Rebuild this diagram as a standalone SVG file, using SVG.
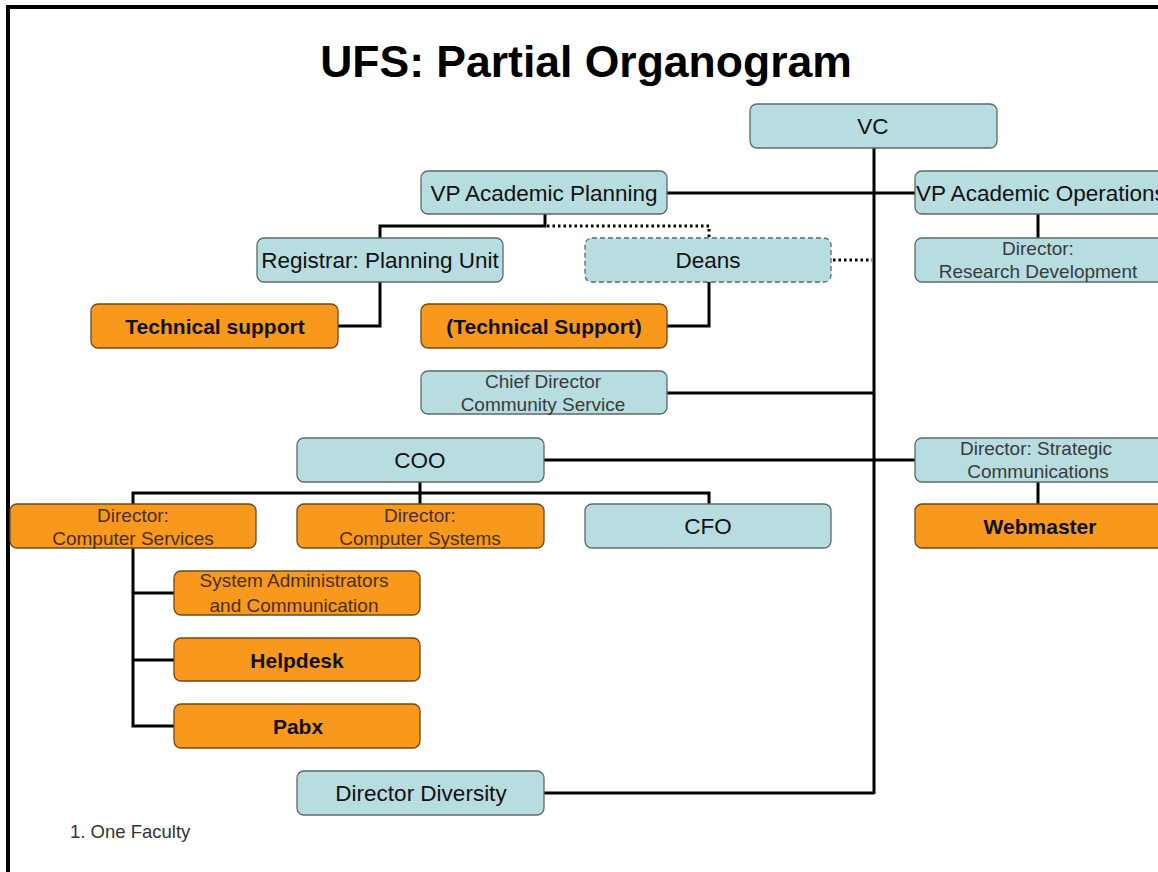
<svg xmlns="http://www.w3.org/2000/svg" width="1158" height="872" viewBox="0 0 1158 872">
  <style>
    .blue { fill: #b7dde1; stroke: #5b6a6c; stroke-width: 1.3; }
    .orange { fill: #f8981d; stroke: #6b4a1c; stroke-width: 1.3; }
    .dashed { stroke-dasharray: 5 3; }
    .t { font-family: "Liberation Sans", Arial, sans-serif; text-anchor: middle; }
    .big { font-size: 22.5px; fill: #111; }
    .bigb { font-size: 21px; font-weight: bold; fill: #111; }
    .small { font-size: 19px; fill: #3a3a3a; }
    .smallo { font-size: 19px; fill: #4a3010; }
    .line { fill: none; stroke: #000; stroke-width: 3; }
    .dot { fill: none; stroke: #000; stroke-width: 3; stroke-dasharray: 2.5 3; }
  </style>
  <rect x="0" y="0" width="1158" height="872" fill="#fff"/>
  <!-- frame -->
  <path d="M8 872 V7 H1158" fill="none" stroke="#000" stroke-width="4"/>

  <text class="t" x="586" y="77" font-size="44.5" font-weight="bold" fill="#000">UFS: Partial Organogram</text>

  <g id="connectors">
    <line class="line" x1="874" y1="148" x2="874" y2="794"/>
    <line class="line" x1="667" y1="193" x2="915" y2="193"/>
    <line class="line" x1="1038" y1="214" x2="1038" y2="238"/>
    <path class="line" d="M545 214 V226 H380 V238"/>
    <path class="dot" d="M547 226 H709 V238"/>
    <line class="dot" x1="833" y1="260" x2="872" y2="260"/>
    <path class="line" d="M380 282 V326 H338"/>
    <path class="line" d="M709 282 V326 H667"/>
    <line class="line" x1="667" y1="393" x2="874" y2="393"/>
    <line class="line" x1="544" y1="460" x2="915" y2="460"/>
    <path class="line" d="M133 504 V493 H709 V504"/>
    <line class="line" x1="420" y1="482" x2="420" y2="504"/>
    <line class="line" x1="1038" y1="482" x2="1038" y2="504"/>
    <path class="line" d="M133 548 V726 H174"/>
    <line class="line" x1="133" y1="593" x2="174" y2="593"/>
    <line class="line" x1="133" y1="660" x2="174" y2="660"/>
    <line class="line" x1="544" y1="793" x2="874" y2="793"/>
  </g>

  <g id="vc">
    <rect class="blue" x="750" y="104" width="247" height="44" rx="7"/>
    <text class="t big" x="873" y="134">VC</text>
  </g>
  <g id="vp-academic-planning">
    <rect class="blue" x="421" y="171" width="246" height="43" rx="7"/>
    <text class="t big" x="544" y="201">VP Academic Planning</text>
  </g>
  <g id="vp-academic-operations">
    <rect class="blue" x="915" y="171" width="250" height="43" rx="7"/>
    <text x="916" y="201" font-family="Liberation Sans, Arial, sans-serif" font-size="22.5" fill="#111">VP Academic Operations</text>
  </g>
  <g id="registrar">
    <rect class="blue" x="257" y="238" width="246" height="44" rx="7"/>
    <text class="t big" x="380" y="268">Registrar: Planning Unit</text>
  </g>
  <g id="deans">
    <rect class="blue dashed" x="585" y="238" width="246" height="44" rx="7"/>
    <text class="t big" x="708" y="268">Deans</text>
  </g>
  <g id="director-research">
    <rect class="blue" x="915" y="238" width="250" height="44" rx="7"/>
    <text class="t small" x="1038" y="255">Director:</text>
    <text class="t small" x="1038" y="278">Research Development</text>
  </g>
  <g id="technical-support">
    <rect class="orange" x="91" y="304" width="247" height="44" rx="7"/>
    <text class="t bigb" x="215" y="334">Technical support</text>
  </g>
  <g id="technical-support-deans">
    <rect class="orange" x="421" y="304" width="246" height="44" rx="7"/>
    <text class="t bigb" x="544" y="334">(Technical Support)</text>
  </g>
  <g id="chief-director">
    <rect class="blue" x="421" y="371" width="246" height="43" rx="7"/>
    <text class="t small" x="543" y="388">Chief Director</text>
    <text class="t small" x="543" y="411">Community Service</text>
  </g>
  <g id="coo">
    <rect class="blue" x="297" y="438" width="247" height="44" rx="7"/>
    <text class="t big" x="420" y="468">COO</text>
  </g>
  <g id="director-strategic">
    <rect class="blue" x="915" y="438" width="250" height="44" rx="7"/>
    <text class="t small" x="1036" y="455">Director: Strategic</text>
    <text class="t small" x="1038" y="478">Communications</text>
  </g>
  <g id="director-computer-services">
    <rect class="orange" x="10" y="504" width="246" height="44" rx="7"/>
    <text class="t smallo" x="133" y="522">Director:</text>
    <text class="t smallo" x="133" y="545">Computer Services</text>
  </g>
  <g id="director-computer-systems">
    <rect class="orange" x="297" y="504" width="247" height="44" rx="7"/>
    <text class="t smallo" x="420" y="522">Director:</text>
    <text class="t smallo" x="420" y="545">Computer Systems</text>
  </g>
  <g id="cfo">
    <rect class="blue" x="585" y="504" width="246" height="44" rx="7"/>
    <text class="t big" x="708" y="534">CFO</text>
  </g>
  <g id="webmaster">
    <rect class="orange" x="915" y="504" width="250" height="44" rx="7"/>
    <text class="t bigb" x="1040" y="534">Webmaster</text>
  </g>
  <g id="sysadmin">
    <rect class="orange" x="174" y="571" width="246" height="44" rx="7"/>
    <text class="t smallo" x="294" y="587">System Administrators</text>
    <text class="t smallo" x="294" y="612">and Communication</text>
  </g>
  <g id="helpdesk">
    <rect class="orange" x="174" y="638" width="246" height="43" rx="7"/>
    <text class="t bigb" x="297" y="668">Helpdesk</text>
  </g>
  <g id="pabx">
    <rect class="orange" x="174" y="704" width="246" height="44" rx="7"/>
    <text class="t bigb" x="298" y="734">Pabx</text>
  </g>
  <g id="director-diversity">
    <rect class="blue" x="297" y="771" width="247" height="44" rx="7"/>
    <text class="t big" x="421" y="801">Director Diversity</text>
  </g>

  <text x="70" y="838" font-family="Liberation Sans, Arial, sans-serif" font-size="18.5" fill="#333">1. One Faculty</text>
</svg>
